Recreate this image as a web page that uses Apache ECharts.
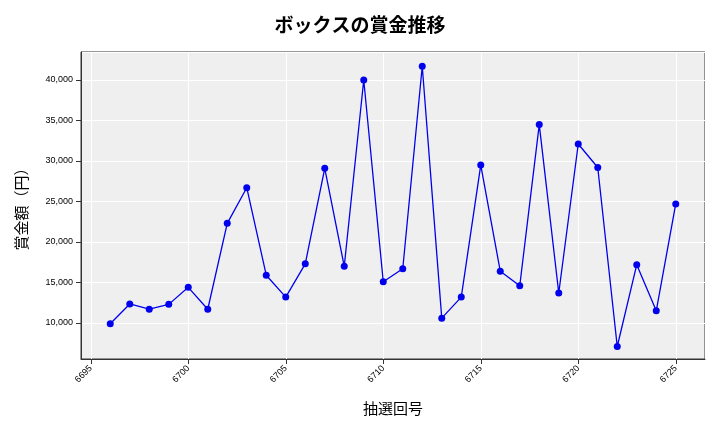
<!DOCTYPE html>
<html><head><meta charset="utf-8">
<script src="https://cdn.jsdelivr.net/npm/echarts@6/dist/echarts.min.js"></script>
<style>html,body{margin:0;padding:0;background:#fff}#c{width:720px;height:432px}</style>
</head><body><div id="c"></div>
<script>
const draws = [6696,6697,6698,6699,6700,6701,6702,6703,6704,6705,6706,6707,6708,6709,6710,6711,6712,6713,6714,6715,6716,6717,6718,6719,6720,6721,6722,6723,6724,6725];
const prizes = [9900,12350,11700,12300,14400,11700,22300,26700,15900,13200,17300,29100,17000,40000,15100,16700,41700,10600,13200,29500,16400,14600,34500,13700,32100,29200,7100,17200,11500,24700];
const titleText = 'ボックスの賞金推移';
const xName = '抽選回号';
const yName = '賞金額（円）';
const font = '"Noto Sans CJK JP", "DejaVu Sans", sans-serif';
const chart = echarts.init(document.getElementById('c'));
chart.setOption({
  animation:false,
  title:{text:titleText,left:'center',top:10,textStyle:{fontFamily:font,fontSize:19,fontWeight:'bold',color:'#000'}},
  grid:{left:81,right:15,top:52,bottom:73,show:true,backgroundColor:'#efefef',borderWidth:1,borderColor:'#333'},
  xAxis:{type:'value',min:6694.5,max:6726.5,splitNumber:6,name:xName,nameLocation:'middle',nameGap:42,
    nameTextStyle:{fontFamily:font,fontSize:15,color:'#000'},
    axisLine:{lineStyle:{color:'#333'}},axisTick:{show:true,lineStyle:{color:'#333'}},
    axisLabel:{rotate:45,fontSize:9,color:'#000',showMinLabel:false,showMaxLabel:false,formatter:v=>String(v)},
    splitLine:{show:true,lineStyle:{color:'#fff',width:1}}},
  yAxis:{type:'value',min:5556,max:43457,splitNumber:8,name:yName,nameLocation:'middle',nameGap:52,
    nameTextStyle:{fontFamily:font,fontSize:15,color:'#000'},
    axisLine:{show:true,lineStyle:{color:'#333'}},axisTick:{show:true,lineStyle:{color:'#333'}},
    axisLabel:{fontSize:9,color:'#000',showMinLabel:false,showMaxLabel:false,
      formatter:v=>v.toLocaleString('en-US')},
    splitLine:{show:true,lineStyle:{color:'#fff',width:1}}},
  series:[{type:'line',data:draws.map((d,i)=>[d,prizes[i]]),symbol:'circle',symbolSize:7,
    lineStyle:{color:'#0000ee',width:1.3},itemStyle:{color:'#0000ee'}}]
});
</script></body></html>
